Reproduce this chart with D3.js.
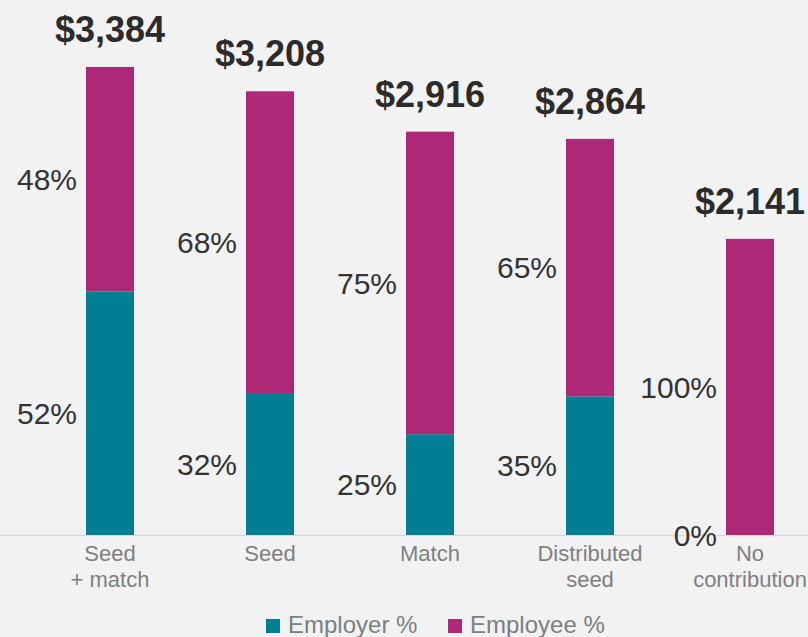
<!DOCTYPE html>
<html><head><meta charset="utf-8">
<script src="https://cdn.jsdelivr.net/npm/d3@7"></script>
<style>
html,body{margin:0;padding:0;background:#f2f2f2;}
svg{display:block;font-family:"Liberation Sans",Arial,Helvetica,sans-serif;}
</style></head>
<body>
<svg id="chart" width="808" height="637"></svg>
<script>
const categories = [["Seed","+ match"],["Seed"],["Match"],["Distributed","seed"],["No","contribution"]];
const totals = [3384, 3208, 2916, 2864, 2141];
const employerPct = [52, 32, 25, 35, 0];
const employeePct = [48, 68, 75, 65, 100];
const seriesNames = ["Employer %", "Employee %"];
const colors = ["#007f94", "#ae2878"];

const svg = d3.select("#chart");
const W = 808, H = 637;
const baseY = 535;

const x = d3.scaleBand().domain(d3.range(categories.length)).range([30, 830])
  .paddingInner(0.7).paddingOuter(0.35);
const y = d3.scaleLinear().domain([0, 3868]).range([baseY, 0]);

// axis line
svg.append("line").attr("x1", 0).attr("x2", W).attr("y1", baseY + 0.5).attr("y2", baseY + 0.5)
  .attr("stroke", "#d9d9d9").attr("stroke-width", 1.5);

const data = totals.map((t, i) => {
  const emp = t * employerPct[i] / 100;
  return {i, total: t, segs: [
    {k: 0, y0: 0, y1: emp, pct: employerPct[i]},
    {k: 1, y0: emp, y1: t, pct: employeePct[i]}
  ]};
});

const g = svg.append("g");
data.forEach(d => {
  d.segs.forEach(s => {
    g.append("rect")
      .attr("x", x(d.i)).attr("width", x.bandwidth())
      .attr("y", y(s.y1)).attr("height", y(s.y0) - y(s.y1))
      .attr("fill", colors[s.k]);
    g.append("text")
      .attr("x", x(d.i) - 9)
      .attr("y", (y(s.y0) + y(s.y1)) / 2)
      .attr("dy", "0.36em")
      .attr("text-anchor", "end")
      .attr("font-size", 30)
      .attr("fill", "#333333")
      .text(s.pct + "%");
  });
  g.append("text")
    .attr("x", x(d.i) + x.bandwidth() / 2)
    .attr("y", y(d.total) - 25)
    .attr("text-anchor", "middle")
    .attr("font-size", 36)
    .attr("font-weight", "bold")
    .attr("fill", "#2b2b2b")
    .text(d3.format("$,")(d.total));
});

// category labels
categories.forEach((lines, i) => {
  const t = svg.append("text")
    .attr("x", x(i) + x.bandwidth() / 2)
    .attr("y", 561)
    .attr("text-anchor", "middle")
    .attr("font-size", 22)
    .attr("fill", "#808080");
  lines.forEach((l, j) => {
    t.append("tspan").attr("x", x(i) + x.bandwidth() / 2).attr("dy", j === 0 ? 0 : 26).text(l);
  });
});

// legend
const legendX = [266, 448];
seriesNames.forEach((n, k) => {
  svg.append("rect").attr("x", legendX[k]).attr("y", 619).attr("width", 14).attr("height", 14)
    .attr("fill", colors[k]);
  svg.append("text").attr("x", legendX[k] + 22).attr("y", 633)
    .attr("font-size", 24).attr("fill", "#7a8080").text(n);
});
</script>
</body></html>
